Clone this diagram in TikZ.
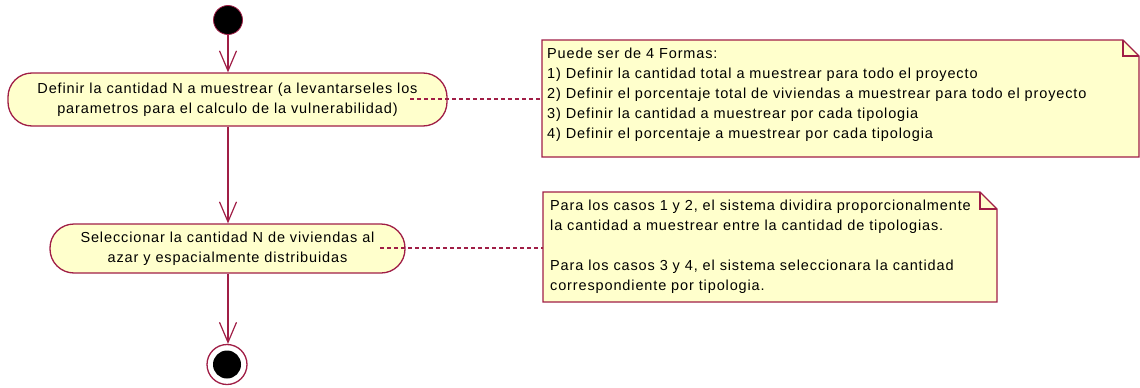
\documentclass[tikz,border=0pt]{standalone}
\usepackage{fontspec}
\setmainfont[LetterSpace=6]{Liberation Sans}
\usetikzlibrary{arrows.meta}
\definecolor{umlline}{RGB}{160,30,70}
\definecolor{umlfill}{RGB}{255,255,204}
\tikzset{
  x=1pt, y=-1pt,
  every node/.style={font=\fontsize{14.5}{20}\selectfont},
  activity/.style={draw=umlline, fill=umlfill, line width=1.3pt, rounded corners=24pt, align=center, inner sep=0pt},
  flow/.style={draw=umlline, line width=1.3pt, -{Straight Barb[length=20pt,width=17pt,line width=1.2pt]}},
  anchorline/.style={draw=umlline, line width=1.3pt, dash pattern=on 4pt off 3pt},
  noteshape/.style={draw=umlline, fill=umlfill, line width=1.3pt, line join=miter},
  notetext/.style={align=left, anchor=north west, inner sep=0pt},
  startstate/.style={circle, fill=black, draw=umlline, line width=0.8pt, minimum size=29pt, inner sep=0pt},
  endstate/.style={circle, draw=umlline, fill=white, line width=1.3pt, minimum size=40pt, inner sep=0pt},
}
\begin{document}
\begin{tikzpicture}
\useasboundingbox (0,0) rectangle (1140,388);
% states
\node[startstate] (start) at (228,20) {};
\node[activity, minimum width=439pt, minimum height=53pt] (a1) at (227.5,99.5)
  {Definir la cantidad N a muestrear (a levantarseles los\\parametros para el calculo de la vulnerabilidad)};
\node[activity, minimum width=355pt, minimum height=49pt] (a2) at (227.5,248.5)
  {\raisebox{2pt}{\begin{tabular}{@{}c@{}}Seleccionar la cantidad N de viviendas al\\azar y espacialmente distribuidas\end{tabular}}};
\node[endstate] (end) at (227,364.5) {};
\fill[black] (end.center) circle[radius=14pt];
% flows
\draw[flow] (start) -- (start |- a1.north);
\draw[flow] (a1.south -| start) -- (start |- a2.north);
\draw[flow] (a2.south -| start) -- (end.north -| start);
% note 1
\coordinate (n1nw) at (542,40);
\coordinate (n1se) at (1139,157);
\path[noteshape] (n1nw) -- (1123,40) -- (1139,56) -- (n1se) -- (542,157) -- cycle;
\draw[noteshape, fill=none] (1123,40) -- (1123,56) -- (1139,56);
\node[notetext] (t1) at (547,48) {Puede ser de 4 Formas:\\
1) Definir la cantidad total a muestrear para todo el proyecto\\
2) Definir el porcentaje total de viviendas a muestrear para todo el proyecto\\
3) Definir la cantidad a muestrear por cada tipologia\\
4) Definir el porcentaje a muestrear por cada tipologia};
% note 2
\coordinate (n2nw) at (543,192);
\path[noteshape] (n2nw) -- (980,192) -- (997,209) -- (997,302) -- (543,302) -- cycle;
\draw[noteshape, fill=none] (980,192) -- (980,209) -- (997,209);
\node[notetext] (t2) at (550,200) {Para los casos 1 y 2, el sistema dividira proporcionalmente\\
la cantidad a muestrear entre la cantidad de tipologias.\\[20pt]
Para los casos 3 y 4, el sistema seleccionara la cantidad\\
correspondiente por tipologia.};
% anchors
\coordinate (c1a) at (410,99);
\coordinate (c1b) at (542,99);
\coordinate (c2a) at (380,248);
\coordinate (c2b) at (543,248);
\draw[anchorline] (c1a) -- (c1b);
\draw[anchorline] (c2a) -- (c2b);
\end{tikzpicture}
\end{document}
